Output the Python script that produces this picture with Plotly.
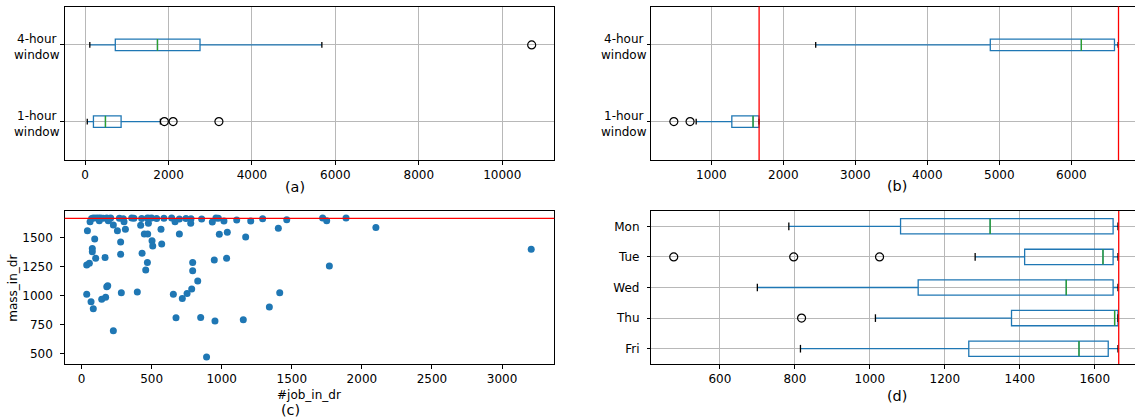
import plotly.graph_objects as go

# ---------------- data ----------------
CAPACITY_1H = 1664
CAPACITY_4H = 6656

WINDOW_LABELS = ["1-hour<br>window", "4-hour<br>window"]
WINDOW_POS = [1, 2]

# (a) number of jobs per window
A_LOW = [52, 113]
A_Q1 = [200, 724]
A_MED = [488, 1735]
A_Q3 = [863, 2755]
A_HIGH = [1805, 5676]
A_OUT_1H = [1900, 2110, 3208]
A_OUT_4H = [10706]

# (b) mass per window
B_LOW = [790, 2450]
B_Q1 = [1285, 4875]
B_MED = [1580, 6140]
B_Q3 = [1662, 6600]
B_HIGH = [1664, 6650]
B_OUT_1H = [480, 705]

# (c) scatter
JOB_IN_DR = [72, 84, 103, 120, 137, 156, 180, 199, 208, 270, 298, 358, 374, 429, 470, 484, 500, 536,
             588, 643, 698, 745, 781, 857, 959, 976, 1107, 1292, 1464, 1720, 1887,
             61, 127, 191, 227, 256, 303, 313, 422, 477, 567, 667, 779, 933, 983, 1016, 1040, 1171,
             1207, 1404, 1749, 2100,
             42, 94, 77, 77, 101, 37, 56, 168, 279, 279, 432, 470, 458, 448, 472, 503, 508, 572, 698,
             793, 793, 829, 947, 1035, 37, 68, 84, 144, 172, 180, 187, 284, 398, 655, 674, 719, 753,
             786, 850, 952, 1154, 1340, 1414, 1768, 227, 892, 3208]
MASS_IN_DR = [1662, 1666, 1668, 1666, 1668, 1664, 1668, 1662, 1666, 1664, 1660, 1666, 1664, 1662, 1666,
              1664, 1668, 1662, 1664, 1666, 1658, 1662, 1660, 1658, 1667, 1664, 1650, 1661, 1652, 1667, 1667,
              1635, 1644, 1644, 1607, 1558, 1635, 1570, 1604, 1621, 1570, 1635, 1621, 1633, 1527, 1641,
              1544, 1504, 1641, 1578, 1644, 1585,
              1558, 1486, 1406, 1378, 1321, 1264, 1278, 1329, 1461, 1355, 1364, 1284, 1221, 1530, 1530,
              1472, 1427, 1444, 1530, 1284, 1215, 1126, 1306, 1321, 1012, 949, 889, 969, 986, 1078, 1086,
              1026, 1032, 1012, 811, 977, 1020, 1058, 814, 783, 794, 903, 1026, 1255, 700, 475, 1398]

# (d) mass by weekday
DAYS = ["Mon", "Tue", "Wed", "Thu", "Fri"]
DAY_POS = [5, 4, 3, 2, 1]
D_LOW = [784, 1281, 700, 1015, 815]
D_Q1 = [1082, 1413, 1129, 1378, 1264]
D_MED = [1321, 1622, 1524, 1653, 1558]
D_Q3 = [1649, 1649, 1649, 1662, 1636]
D_HIGH = [1662, 1662, 1662, 1662, 1662]
D_OUT_DAY = ["Tue", "Tue", "Tue", "Thu"]
D_OUT_VAL = [477, 797, 1026, 818]

A_TICKS = [0, 2000, 4000, 6000, 8000, 10000]
B_TICKS = [1000, 2000, 3000, 4000, 5000, 6000]
C_XTICKS = [0, 500, 1000, 1500, 2000, 2500, 3000]
C_YTICKS = [500, 750, 1000, 1250, 1500]
D_TICKS = [600, 800, 1000, 1200, 1400, 1600]

# ---------------- styling / layout ----------------
W, H = 1135, 419
BLUE = "#1f77b4"
GREEN = "#2ca02c"
GRID = "#b8b8b8"
FONT = "DejaVu Sans"


def fx(p):
    return p / W


def fy(p):
    return 1 - p / H


fig = go.Figure()


def add_boxes(xa, ya, pos, low, q1, med, q3, high, width):
    fig.add_trace(go.Box(
        y=pos, q1=q1, median=med, q3=q3, lowerfence=low, upperfence=high,
        orientation="h", width=width, whiskerwidth=0, boxpoints=False,
        line=dict(color=BLUE, width=1.3), fillcolor="rgba(0,0,0,0)",
        xaxis=xa, yaxis=ya, hoverinfo="skip"))
    mx, my, cx, cy = [], [], [], []
    for p, m, lo, hi in zip(pos, med, low, high):
        mx += [m, m, None]
        my += [p - width / 2, p + width / 2, None]
        for v in (lo, hi):
            cx += [v, v, None]
            cy += [p - width / 4, p + width / 4, None]
    fig.add_trace(go.Scatter(x=mx, y=my, mode="lines", line=dict(color=GREEN, width=1.3),
                             xaxis=xa, yaxis=ya, hoverinfo="skip"))
    fig.add_trace(go.Scatter(x=cx, y=cy, mode="lines", line=dict(color="black", width=1.3),
                             xaxis=xa, yaxis=ya, hoverinfo="skip"))


def add_outliers(xa, ya, xs, ys):
    fig.add_trace(go.Scatter(x=xs, y=ys, mode="markers",
                             marker=dict(symbol="circle-open", size=8, color="black", line=dict(width=1.2)),
                             xaxis=xa, yaxis=ya, hoverinfo="skip"))


# (a)
add_boxes("x", "y", WINDOW_POS, A_LOW, A_Q1, A_MED, A_Q3, A_HIGH, 0.15)
add_outliers("x", "y", A_OUT_1H + A_OUT_4H,
             [WINDOW_POS[0]] * len(A_OUT_1H) + [WINDOW_POS[1]] * len(A_OUT_4H))
# (b)
add_boxes("x2", "y2", WINDOW_POS, B_LOW, B_Q1, B_MED, B_Q3, B_HIGH, 0.15)
add_outliers("x2", "y2", B_OUT_1H, [WINDOW_POS[0]] * len(B_OUT_1H))
# (c)
fig.add_trace(go.Scatter(x=JOB_IN_DR, y=MASS_IN_DR, mode="markers",
                         marker=dict(size=7, color=BLUE, line=dict(width=0)),
                         xaxis="x3", yaxis="y3", hoverinfo="skip"))
# (d)
add_boxes("x4", "y4", DAY_POS, D_LOW, D_Q1, D_MED, D_Q3, D_HIGH, 0.5)
day_to_pos = dict(zip(DAYS, DAY_POS))
add_outliers("x4", "y4", D_OUT_VAL, [day_to_pos[d] for d in D_OUT_DAY])

# axes
TOP_Y = [fy(160), fy(6.5)]
BOT_Y = [fy(364), fy(211)]
LEFT_X = [fx(64.7), fx(554.2)]
RIGHT_X = [fx(651.4), 1.0]

common = dict(showline=True, linecolor="black", linewidth=1, ticks="outside", ticklen=3.5,
              tickwidth=1, tickcolor="black", zeroline=False, gridcolor=GRID, gridwidth=0.8,
              automargin=False, tickfont=dict(family=FONT, size=12, color="black"))

fig.update_layout(
    xaxis=dict(common, domain=LEFT_X, anchor="y", range=[-489, 11246], tickmode="array",
               tickvals=A_TICKS, ticktext=[str(t) for t in A_TICKS], showgrid=True, mirror=True),
    yaxis=dict(common, domain=TOP_Y, anchor="x", range=[0.5, 2.5], tickmode="array",
               tickvals=WINDOW_POS, showticklabels=False, showgrid=True, mirror=True),
    xaxis2=dict(common, domain=RIGHT_X, anchor="y2", range=[168, 6885], tickmode="array",
                tickvals=B_TICKS, ticktext=[str(t) for t in B_TICKS], showgrid=True, mirror=True),
    yaxis2=dict(common, domain=TOP_Y, anchor="x2", range=[0.5, 2.5], tickmode="array",
                tickvals=WINDOW_POS, showticklabels=False, showgrid=True, mirror=False),
    xaxis3=dict(common, domain=LEFT_X, anchor="y3", range=[-120, 3372], tickmode="array",
                tickvals=C_XTICKS, ticktext=[str(t) for t in C_XTICKS], showgrid=False, mirror=True),
    yaxis3=dict(common, domain=BOT_Y, anchor="x3", range=[414, 1727], tickmode="array",
                tickvals=C_YTICKS, ticktext=[str(t) for t in C_YTICKS], showgrid=False, mirror=True,
                ticklabelstandoff=5),
    xaxis4=dict(common, domain=RIGHT_X, anchor="y4", range=[417.4, 1707.4], tickmode="array",
                tickvals=D_TICKS, ticktext=[str(t) for t in D_TICKS], showgrid=True, mirror=True),
    yaxis4=dict(common, domain=BOT_Y, anchor="x4", range=[0.5, 5.5], tickmode="array",
                tickvals=DAY_POS, ticktext=DAYS, showgrid=True, mirror=False,
                ticklabelstandoff=5),
)

# reference lines
fig.add_shape(type="line", xref="x2", yref="y2 domain", x0=CAPACITY_1H, x1=CAPACITY_1H, y0=0, y1=1,
              line=dict(color="red", width=1.3))
fig.add_shape(type="line", xref="x2", yref="y2 domain", x0=CAPACITY_4H, x1=CAPACITY_4H, y0=0, y1=1,
              line=dict(color="red", width=1.3))
fig.add_shape(type="line", xref="x3 domain", yref="y3", x0=0, x1=1, y0=CAPACITY_1H, y1=CAPACITY_1H,
              line=dict(color="red", width=1.3))
fig.add_shape(type="line", xref="x4", yref="y4 domain", x0=CAPACITY_1H, x1=CAPACITY_1H, y0=0, y1=1,
              line=dict(color="red", width=1.3))

annotations = []


def txt(x, y, s, size=12, angle=0):
    annotations.append(dict(x=fx(x), y=fy(y), xref="paper", yref="paper", text=s, showarrow=False,
                            xanchor="center", yanchor="middle", textangle=angle, align="center",
                            font=dict(family=FONT, size=size, color="black")))


# category labels (two centered lines) for (a) and (b)
for cx in (37, 623.7):
    for p, label in zip(WINDOW_POS, WINDOW_LABELS):
        ty = 6.5 + (2.5 - p) / 2.0 * (160 - 6.5)
        txt(cx, ty + 2.5, label)

txt(295, 187, "(a)", 14.4)
txt(897, 186, "(b)", 14.4)
txt(309, 395, "#job_in_dr", 12)
txt(290, 410, "(c)", 14.4)
txt(897, 396, "(d)", 14.4)
txt(12.7, 288, "mass_in_dr", 12, -90)

fig.update_layout(width=W, height=H, margin=dict(l=0, r=0, t=0, b=0), showlegend=False,
                  paper_bgcolor="white", plot_bgcolor="white",
                  font=dict(family=FONT, size=12, color="black"), annotations=annotations)

fig.write_html("out.html", post_script="document.body.style.margin='0';",
               config={"displayModeBar": False})
